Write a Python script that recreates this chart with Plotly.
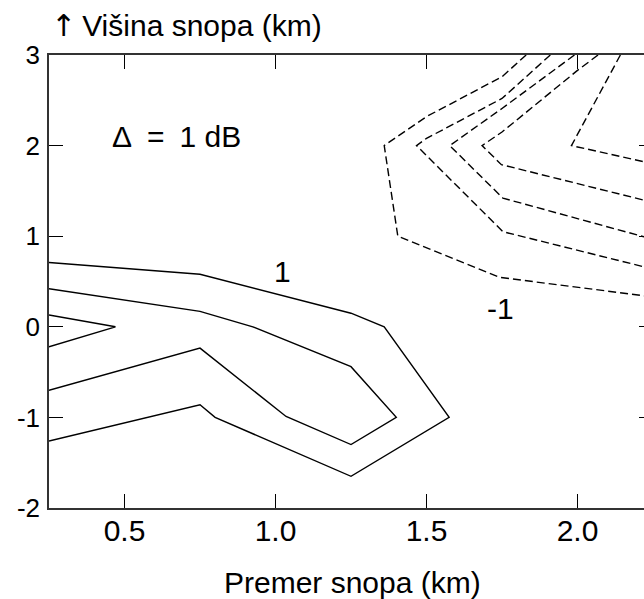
import plotly.graph_objects as go

# Solid contours (positive levels)
solid_a_x = [0.25, 0.75, 1.25, 1.36, 1.575, 1.25, 0.80, 0.75, 0.25]
solid_a_y = [0.71, 0.58, 0.15, 0.00, -1.00, -1.65, -1.00, -0.86, -1.26]
solid_b_x = [0.25, 0.75, 0.925, 1.25, 1.40, 1.25, 1.035, 0.75, 0.25]
solid_b_y = [0.42, 0.17, 0.00, -0.44, -1.00, -1.30, -0.99, -0.235, -0.70]
solid_c_x = [0.25, 0.47, 0.25]
solid_c_y = [0.13, 0.00, -0.22]

# Dashed contours (negative levels)
dash_1_x = [1.83, 1.75, 1.50, 1.36, 1.405, 1.742, 2.25]
dash_1_y = [3.00, 2.76, 2.32, 2.00, 1.00, 0.546, 0.33]
dash_2_x = [1.91, 1.75, 1.50, 1.467, 1.753, 2.25]
dash_2_y = [3.00, 2.52, 2.08, 2.00, 1.05, 0.637]
dash_3_x = [1.99, 1.75, 1.577, 1.753, 2.25]
dash_3_y = [3.00, 2.41, 2.00, 1.42, 0.966]
dash_4_x = [2.068, 2.00, 1.75, 1.684, 1.748, 2.25]
dash_4_y = [3.00, 2.83, 2.15, 2.00, 1.79, 1.373]
dash_5_x = [2.142, 1.98, 2.25]
dash_5_y = [3.00, 2.00, 1.80]

x_ticks = [0.5, 1.0, 1.5, 2.0]
x_ticktext = ["0.5", "1.0", "1.5", "2.0"]
y_ticks = [-2, -1, 0, 1, 2, 3]
y_ticktext = ["-2", "-1", "0", "1", "2", "3"]

FONT = "Liberation Sans"
FS = 30

fig = go.Figure()
for xs, ys in [(solid_a_x, solid_a_y), (solid_b_x, solid_b_y), (solid_c_x, solid_c_y)]:
    fig.add_trace(go.Scatter(x=xs, y=ys, mode="lines",
                             line=dict(color="black", width=1.4),
                             showlegend=False, hoverinfo="skip"))
for xs, ys in [(dash_1_x, dash_1_y), (dash_2_x, dash_2_y), (dash_3_x, dash_3_y),
               (dash_4_x, dash_4_y), (dash_5_x, dash_5_y)]:
    fig.add_trace(go.Scatter(x=xs, y=ys, mode="lines",
                             line=dict(color="black", width=1.4, dash="8px,4px"),
                             showlegend=False, hoverinfo="skip"))
# dummy trace for right-side tick axis
fig.add_trace(go.Scatter(x=[None], y=[None], yaxis="y2", showlegend=False, hoverinfo="skip"))

fig.update_layout(
    width=644, height=599,
    margin=dict(l=49, r=0, t=55, b=91),
    plot_bgcolor="white", paper_bgcolor="white",
    font=dict(family=FONT, size=FS, color="black"),
    xaxis=dict(range=[0.25, 0.25 + 595 / 302], tickvals=x_ticks, ticktext=x_ticktext,
               ticks="inside", ticklen=14, tickwidth=1.2, tickcolor="black",
               showline=True, linecolor="#333", linewidth=1.5, mirror="ticks",
               showgrid=False, zeroline=False, ticklabelstandoff=-5,
               tickfont=dict(family=FONT, size=FS)),
    yaxis=dict(range=[-2, 3], tickvals=y_ticks, ticktext=y_ticktext,
               ticks="inside", ticklen=14, tickwidth=1.2, tickcolor="black",
               showline=True, linecolor="#333", linewidth=1.5, mirror=False,
               showgrid=False, zeroline=False, ticklabelstandoff=2,
               tickfont=dict(family=FONT, size=26)),
    yaxis2=dict(range=[-2, 3], tickvals=y_ticks, overlaying="y", side="right",
                ticks="inside", ticklen=5, tickwidth=1.2, tickcolor="black",
                showline=False, showticklabels=False, showgrid=False, zeroline=False),
    annotations=[
        dict(text="<span style='font-family:DejaVu Sans'>↑</span>\u2009Višina snopa (km)",
             xref="paper", yref="paper",
             x=0.0, y=(508 - 25) / 453, xanchor="left", yanchor="middle",
             showarrow=False, font=dict(family=FONT, size=FS)),
        dict(text="Premer snopa (km)", xref="paper", yref="paper",
             x=(352 - 49) / 595, y=(508 - 582) / 453, xanchor="center", yanchor="middle",
             showarrow=False, font=dict(family=FONT, size=FS)),
        dict(text="Δ\u2002=\u20021 dB", xref="x", yref="y",
             x=0.452, y=2.095, xanchor="left", yanchor="middle",
             showarrow=False, font=dict(family=FONT, size=FS)),
        dict(text="1", xref="x", yref="y", x=1.024, y=0.606,
             showarrow=False, font=dict(family=FONT, size=FS)),
        dict(text="-1", xref="x", yref="y", x=1.744, y=0.20,
             showarrow=False, font=dict(family=FONT, size=FS)),
    ],
)

fig.write_html("out.html")
